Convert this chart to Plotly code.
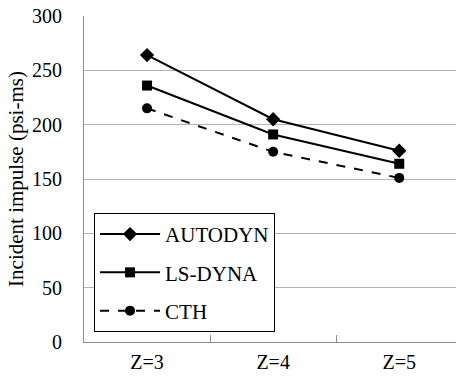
import plotly.graph_objects as go

categories = ["Z=3", "Z=4", "Z=5"]
autodyn = [264, 205, 176]
lsdyna = [236, 191, 164]
cth = [215, 175, 151]
y_ticks = [0, 50, 100, 150, 200, 250, 300]

FONT = "Liberation Serif"

fig = go.Figure()
series = [
    ("AUTODYN", autodyn, "diamond", 11, "solid"),
    ("LS-DYNA", lsdyna, "square", 10, "solid"),
    ("CTH", cth, "circle", 10, "dash"),
]
for name, vals, sym, size, dash in series:
    fig.add_trace(go.Scatter(
        x=categories, y=vals, name=name, mode="lines+markers",
        line=dict(color="black", width=2, dash=dash),
        marker=dict(symbol=sym, size=size, color="black"),
        legendgroup=name,
    ))

fig.update_layout(
    width=456, height=378,
    margin=dict(l=84, r=0, t=16, b=36, autoexpand=False),
    paper_bgcolor="white", plot_bgcolor="white",
    font=dict(family=FONT, size=20, color="black"),
    showlegend=True,
    legend=dict(
        x=0.027, y=0.396, xanchor="left", yanchor="top",
        bordercolor="black", borderwidth=1, bgcolor="white",
        font=dict(family=FONT, size=21, color="black"),
        traceorder="grouped", tracegroupgap=8,
        itemwidth=60,
    ),
    xaxis=dict(
        type="category", range=[-0.5, 2.45],
        showline=True, linecolor="#8c8c8c", linewidth=1,
        ticks="inside", tickson="boundaries", ticklen=7, tickcolor="#8c8c8c",
        showgrid=False, zeroline=False,
        tickfont=dict(family=FONT, size=20),
        ticklabelstandoff=2,
    ),
    yaxis=dict(
        range=[0, 300], tickvals=y_ticks,
        showline=True, linecolor="#8c8c8c", linewidth=1,
        showgrid=True, gridcolor="#b3b3b3", gridwidth=1,
        zeroline=False, ticks="",
        tickfont=dict(family=FONT, size=20),
        ticklabelstandoff=17,
        ticklabeloverflow="allow",
        title=dict(text="Incident impulse (psi-ms)", font=dict(family=FONT, size=21), standoff=2),
    ),
)

fig.write_html(
    "out.html",
    config={"displayModeBar": False},
    post_script="document.body.style.margin='0px';",
)
